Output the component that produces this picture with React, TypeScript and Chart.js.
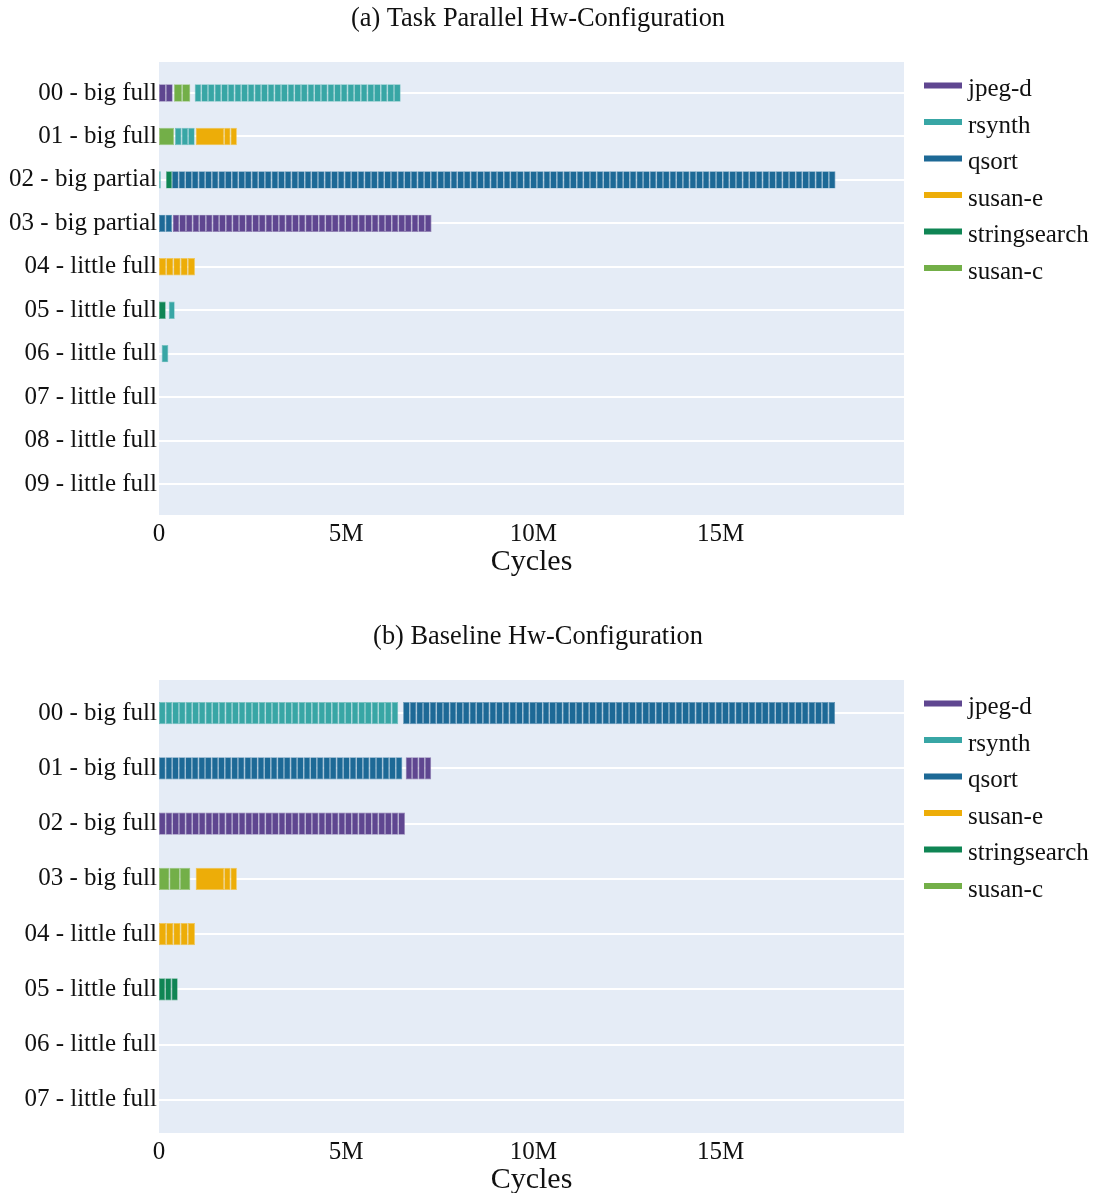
import React, { useEffect, useRef } from 'react';
import { Chart, registerables } from 'chart.js';

Chart.register(...registerables);

const FONT = '"Liberation Serif", "Times New Roman", Times, serif';

const TASKS = ['jpeg-d', 'rsynth', 'qsort', 'susan-e', 'stringsearch', 'susan-c'];
const TASK_COLORS = ['#5F4690', '#38A6A5', '#1D6996', '#EDAD08', '#0F8554', '#73AF48'];

// x axis in millions of cycles
const X_TICKS = [0, 5, 10, 15];
const X_MAX = 19.9;

const TITLE_A = '(a) Task Parallel Hw-Configuration';
const ROWS_A = [
  '00 - big full', '01 - big full', '02 - big partial', '03 - big partial', '04 - little full',
  '05 - little full', '06 - little full', '07 - little full', '08 - little full', '09 - little full',
];
// [row, task, start (M), end (M), runs]
const BLOCKS_A: [number, string, number, number, number][] = [
  [0, 'jpeg-d', 0, 0.365, 2],
  [0, 'susan-c', 0.4, 0.836, 2],
  [0, 'rsynth', 0.953, 6.455, 31],
  [1, 'susan-c', 0, 0.4, 1],
  [1, 'rsynth', 0.427, 0.953, 3],
  [1, 'susan-e', 0.98, 1.74, 1],
  [1, 'susan-e', 1.74, 2.08, 2],
  [2, 'rsynth', 0, 0.05, 1],
  [2, 'stringsearch', 0.187, 0.347, 1],
  [2, 'qsort', 0.347, 18.07, 100],
  [3, 'qsort', 0, 0.347, 2],
  [3, 'jpeg-d', 0.365, 7.28, 39],
  [4, 'susan-e', 0, 0.96, 5],
  [5, 'stringsearch', 0, 0.18, 1],
  [5, 'rsynth', 0.26, 0.42, 1],
  [6, 'rsynth', 0.07, 0.25, 1],
];

const TITLE_B = '(b) Baseline Hw-Configuration';
const ROWS_B = [
  '00 - big full', '01 - big full', '02 - big full', '03 - big full',
  '04 - little full', '05 - little full', '06 - little full', '07 - little full',
];
const BLOCKS_B: [number, string, number, number, number][] = [
  [0, 'rsynth', 0, 6.39, 36],
  [0, 'qsort', 6.52, 18.06, 65],
  [1, 'qsort', 0, 6.5, 37],
  [1, 'jpeg-d', 6.59, 7.27, 4],
  [2, 'jpeg-d', 0, 6.57, 37],
  [3, 'susan-c', 0, 0.836, 3],
  [3, 'susan-e', 0.98, 1.74, 1],
  [3, 'susan-e', 1.74, 2.08, 2],
  [4, 'susan-e', 0, 0.96, 5],
  [5, 'stringsearch', 0, 0.5, 3],
];

type Block = [number, string, number, number, number];

interface PanelSpec {
  title: string;
  rows: string[];
  blocks: Block[];
  yMin: number;
  yMax: number;
  top: number;
  height: number;
  padTop: number;
  padBottom: number;
  titleBaseline: number;
}

const PANELS: PanelSpec[] = [
  { title: TITLE_A, rows: ROWS_A, blocks: BLOCKS_A, yMin: -0.714, yMax: 9.714, top: 0, height: 590, padTop: 62, padBottom: 15, titleBaseline: 25.5 },
  { title: TITLE_B, rows: ROWS_B, blocks: BLOCKS_B, yMin: -0.6, yMax: 7.6, top: 590, height: 603, padTop: 90, padBottom: 0, titleBaseline: 53.5 },
];

function tint(hex: string, f: number) {
  const n = parseInt(hex.slice(1), 16);
  const r = (n >> 16) & 255, g = (n >> 8) & 255, b = n & 255;
  const m = (c: number) => Math.round(c + (255 - c) * f);
  return `rgb(${m(r)},${m(g)},${m(b)})`;
}

function buildDatasets(blocks: Block[]) {
  return TASKS.map((task, ti) => {
    const data: { x: [number, number]; y: number }[] = [];
    blocks.filter((b) => b[1] === task).forEach(([row, , s, e, runs]) => {
      const w = (e - s) / runs;
      for (let k = 0; k < runs; k++) data.push({ x: [s + k * w, s + (k + 1) * w], y: row });
    });
    return {
      label: task,
      data,
      backgroundColor: TASK_COLORS[ti],
      borderColor: tint(TASK_COLORS[ti], 0.3),
      borderWidth: 0.7,
      borderSkipped: false,
      grouped: false,
      barPercentage: 0.4,
      categoryPercentage: 1,
    };
  });
}

function Panel({ spec }: { spec: PanelSpec }) {
  const ref = useRef<HTMLCanvasElement>(null);
  useEffect(() => {
    const canvas = ref.current!;
    const decor = {
      id: 'decor',
      beforeDraw(chart: any) {
        const { ctx, chartArea: a } = chart;
        ctx.save();
        ctx.fillStyle = '#E5ECF6';
        ctx.fillRect(a.left, a.top, a.right - a.left, a.bottom - a.top);
        ctx.restore();
      },
      afterDraw(chart: any) {
        const { ctx, chartArea: a } = chart;
        ctx.save();
        ctx.font = `26.4px ${FONT}`;
        ctx.fillStyle = '#111';
        ctx.textAlign = 'center';
        ctx.textBaseline = 'alphabetic';
        ctx.fillText(spec.title, 538, spec.titleBaseline);
        ctx.font = `25px ${FONT}`;
        ctx.textAlign = 'left';
        chart.data.datasets.forEach((ds: any, i: number) => {
          const cy = a.top + 23.5 + i * 36.5;
          ctx.fillStyle = ds.backgroundColor;
          ctx.fillRect(924, cy - 3, 38, 6);
          ctx.fillStyle = '#111';
          ctx.fillText(ds.label, 968, cy + 10.5);
        });
        ctx.restore();
      },
    };
    const chart = new Chart(canvas, {
      type: 'bar',
      data: { datasets: buildDatasets(spec.blocks) as any },
      options: {
        indexAxis: 'y',
        animation: false,
        responsive: false,
        devicePixelRatio: 1,
        events: [],
        layout: { padding: { top: spec.padTop, right: 193, left: 0, bottom: spec.padBottom } },
        plugins: { legend: { display: false }, tooltip: { enabled: false }, title: { display: false } },
        scales: {
          x: {
            type: 'linear',
            min: 0,
            max: X_MAX,
            afterBuildTicks: (s: any) => { s.ticks = X_TICKS.map((v) => ({ value: v })); },
            afterFit: (s: any) => { s.height = 60; },
            ticks: {
              callback: (v: any) => (v === 0 ? '0' : `${v}M`),
              font: { family: FONT, size: 25 },
              color: '#111',
              padding: -4,
              maxRotation: 0,
            },
            grid: { display: false },
            border: { display: false },
            title: { display: true, text: 'Cycles', font: { family: FONT, size: 30, lineHeight: 1 }, color: '#111', padding: { top: 0, bottom: -2 } },
          },
          y: {
            type: 'linear',
            reverse: true,
            offset: false,
            min: spec.yMin,
            max: spec.yMax,
            afterBuildTicks: (s: any) => { s.ticks = spec.rows.map((_, i) => ({ value: i })); },
            afterFit: (s: any) => { s.width = 159; },
            ticks: {
              callback: (v: any) => spec.rows[v] ?? '',
              font: { family: FONT, size: 25 },
              color: '#111',
              padding: 2,
            },
            grid: { color: '#ffffff', lineWidth: 2, drawTicks: false, offset: false },
            border: { display: false },
          },
        },
      } as any,
      plugins: [decor],
    });
    return () => chart.destroy();
  }, [spec]);
  return (
    <canvas
      ref={ref}
      width={1097}
      height={spec.height}
      style={{ position: 'absolute', left: 0, top: spec.top, width: 1097, height: spec.height, display: 'block' }}
    />
  );
}

export default function App() {
  return (
    <div style={{ position: 'absolute', left: 0, top: 0, width: 1097, height: 1193, overflow: 'hidden', background: '#fff' }}>
      {PANELS.map((p) => (
        <Panel key={p.title} spec={p} />
      ))}
    </div>
  );
}
